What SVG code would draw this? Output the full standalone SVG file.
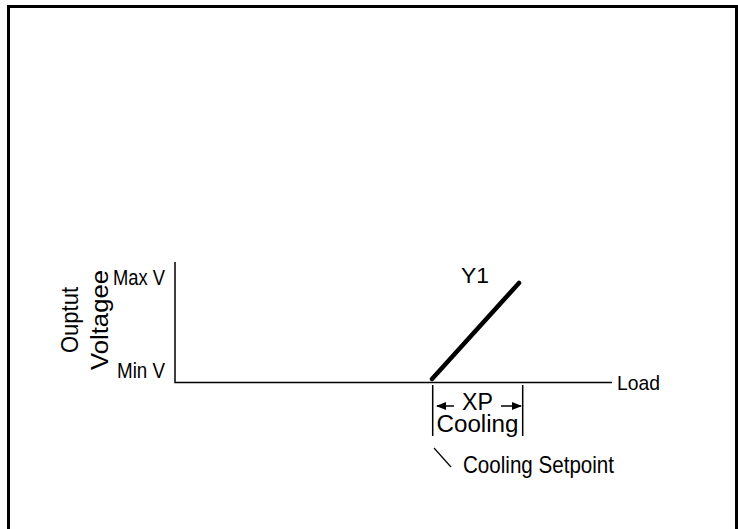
<svg xmlns="http://www.w3.org/2000/svg" width="738" height="529" viewBox="0 0 738 529">
<style>
text{font-family:"Liberation Sans",Arial,sans-serif;fill:#000}
.ax{stroke:#000;stroke-width:1.5;fill:none}
</style>
<defs>
<marker id="ah" markerWidth="10" markerHeight="8" refX="9" refY="4" orient="auto" markerUnits="userSpaceOnUse">
<path d="M0,0 L10,4 L0,8 Z" fill="#000"/>
</marker>
</defs>
<rect x="0" y="0" width="738" height="529" fill="#fff"/>
<path d="M8.5,540 V6.5 H736.5 V540" fill="none" stroke="#000" stroke-width="3"/>
<g id="axes">
<path class="ax" d="M175,262 V382.5 H612"/>
</g>
<g id="connectors">
<path d="M432,379 L519,283" stroke="#000" stroke-width="4.5" stroke-linecap="round"/>
<path class="ax" d="M432.7,385 V436 M522.7,385 V436"/>
<path class="ax" d="M454,406 H437" marker-end="url(#ah)"/>
<path class="ax" d="M501,406 H521" marker-end="url(#ah)"/>
<path d="M434,448 L451,467" stroke="#000" stroke-width="1.2"/>
</g>
<g id="ylabel">
<text transform="translate(78,320) rotate(-90)" text-anchor="middle" font-size="23" textLength="66" lengthAdjust="spacingAndGlyphs">Ouptut</text>
<text transform="translate(108,320) rotate(-90)" text-anchor="middle" font-size="23" textLength="100" lengthAdjust="spacingAndGlyphs">Voltagee</text>
</g>
<g id="maxv"><text x="113" y="285" font-size="22" textLength="52" lengthAdjust="spacingAndGlyphs">Max V</text></g>
<g id="minv"><text x="117" y="378" font-size="22" textLength="48" lengthAdjust="spacingAndGlyphs">Min V</text></g>
<g id="y1"><text x="461" y="283" font-size="22" textLength="28" lengthAdjust="spacingAndGlyphs">Y1</text></g>
<g id="load"><text x="617" y="390" font-size="21" textLength="43" lengthAdjust="spacingAndGlyphs">Load</text></g>
<g id="xp"><text x="477.5" y="410" text-anchor="middle" font-size="23" textLength="31" lengthAdjust="spacingAndGlyphs">XP</text></g>
<g id="cooling"><text x="477.5" y="432" text-anchor="middle" font-size="23" textLength="82" lengthAdjust="spacingAndGlyphs">Cooling</text></g>
<g id="setpoint"><text x="463" y="473" font-size="24" textLength="151" lengthAdjust="spacingAndGlyphs">Cooling Setpoint</text></g>
</svg>
